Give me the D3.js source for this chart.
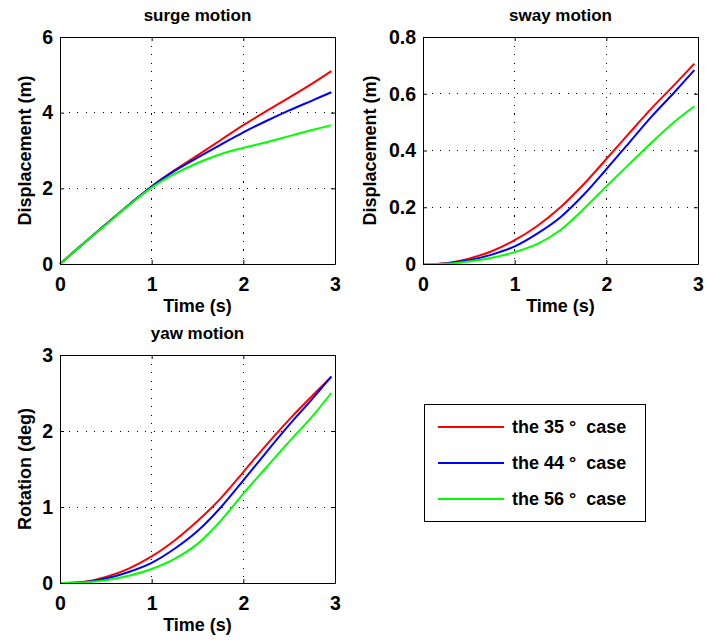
<!DOCTYPE html>
<html>
<head>
<meta charset="utf-8">
<script src="https://cdn.jsdelivr.net/npm/d3@7"></script>
<style>
  html, body { margin: 0; padding: 0; background: #fff; }
  svg text { font-family: "Liberation Sans", Arial, Helvetica, sans-serif; font-weight: bold; fill: #000; }
</style>
</head>
<body>
<svg id="chart" width="709" height="643"></svg>
<script>
// Sample times (s)
const time = [0, 0.25, 0.5, 0.75, 1.0, 1.25, 1.5, 1.75, 2.0, 2.25, 2.5, 2.75, 2.96];

// Surge displacement (m)
const surge35 = [0, 0.53, 1.05, 1.56, 2.05, 2.48, 2.87, 3.27, 3.67, 4.04, 4.40, 4.77, 5.10];
const surge44 = [0, 0.53, 1.05, 1.56, 2.05, 2.46, 2.81, 3.15, 3.48, 3.78, 4.06, 4.32, 4.54];
const surge56 = [0, 0.53, 1.04, 1.55, 2.02, 2.38, 2.67, 2.90, 3.07, 3.22, 3.38, 3.54, 3.67];

// Sway displacement (m)
const sway35 = [0, 0.003, 0.019, 0.045, 0.084, 0.135, 0.200, 0.280, 0.370, 0.461, 0.551, 0.634, 0.706];
const sway44 = [0, 0.002, 0.013, 0.033, 0.062, 0.108, 0.165, 0.243, 0.334, 0.428, 0.522, 0.608, 0.683];
const sway56 = [0, 0.001, 0.009, 0.022, 0.042, 0.071, 0.120, 0.193, 0.273, 0.352, 0.430, 0.503, 0.556];

// Yaw rotation (deg)
const yaw35 = [0, 0.012, 0.08, 0.19, 0.35, 0.56, 0.815, 1.11, 1.46, 1.815, 2.15, 2.46, 2.71];
const yaw44 = [0, 0.010, 0.06, 0.145, 0.265, 0.45, 0.683, 0.99, 1.35, 1.72, 2.08, 2.42, 2.72];
const yaw56 = [0, 0.006, 0.035, 0.095, 0.185, 0.317, 0.515, 0.815, 1.176, 1.52, 1.86, 2.19, 2.50];

const caseLabels = ["the 35 °  case", "the 44 °  case", "the 56 °  case"];
const caseColors = ["#ff0000", "#0000ff", "#00ff00"];

const xTicks = [0, 1, 2, 3];
const surgeTicks = [0, 2, 4, 6];
const swayTicks = [0, 0.2, 0.4, 0.6, 0.8];
const yawTicks = [0, 1, 2, 3];

const svg = d3.select("#chart");

function panel(box, title, yLabel, yLabelOffset, yMax, yTicks, yFmt, seriesList) {
  const x = d3.scaleLinear().domain([0, 3]).range([box.x0, box.x1]);
  const y = d3.scaleLinear().domain([0, yMax]).range([box.y1, box.y0]);
  const g = svg.append("g");

  // dotted grid at interior ticks
  const grid = g.append("g").attr("stroke", "#000").attr("stroke-width", 1)
    .attr("stroke-dasharray", "1.2,7.3").attr("shape-rendering", "crispEdges");
  xTicks.filter(t => t > 0 && t < 3).forEach(t => {
    grid.append("line").attr("x1", x(t)).attr("x2", x(t)).attr("y1", box.y0).attr("y2", box.y1);
  });
  yTicks.filter(t => t > 0 && t < yMax).forEach(t => {
    grid.append("line").attr("x1", box.x0).attr("x2", box.x1).attr("y1", y(t)).attr("y2", y(t));
  });

  // curves
  const line = d3.line().x((d, i) => x(time[i])).y(d => y(d)).curve(d3.curveCatmullRom.alpha(0.5));
  seriesList.forEach((s, i) => {
    g.append("path").datum(s).attr("d", line).attr("fill", "none")
      .attr("stroke", caseColors[i]).attr("stroke-width", 2);
  });

  // axes with inward ticks on all four sides
  const xAx = g.append("g").attr("transform", `translate(0,${box.y1})`)
    .call(d3.axisBottom(x).tickValues(xTicks).tickSizeInner(-4).tickSizeOuter(0).tickPadding(13).tickFormat(d3.format("d")));
  const xAxTop = g.append("g").attr("transform", `translate(0,${box.y0})`)
    .call(d3.axisTop(x).tickValues(xTicks).tickSizeInner(-4).tickSizeOuter(0).tickFormat(""));
  const yAx = g.append("g").attr("transform", `translate(${box.x0},0)`)
    .call(d3.axisLeft(y).tickValues(yTicks).tickSizeInner(-4).tickSizeOuter(0).tickPadding(7).tickFormat(yFmt));
  const yAxRight = g.append("g").attr("transform", `translate(${box.x1},0)`)
    .call(d3.axisRight(y).tickValues(yTicks).tickSizeInner(-4).tickSizeOuter(0).tickFormat(""));
  [xAx, xAxTop, yAx, yAxRight].forEach(a => {
    a.select(".domain").attr("stroke", "#000").attr("stroke-width", 1);
    a.selectAll(".tick line").attr("stroke", "#000");
    a.selectAll("text").style("font-size", "19.5px").attr("fill", "#000")
      .style("font-family", '"Liberation Sans", Arial, sans-serif').style("font-weight", "bold");
  });

  g.append("text").attr("x", (box.x0 + box.x1) / 2).attr("y", box.y0 - 16)
    .attr("text-anchor", "middle").style("font-size", "17px").text(title);
  g.append("text").attr("x", (box.x0 + box.x1) / 2).attr("y", box.y1 + 48)
    .attr("text-anchor", "middle").style("font-size", "18px").text("Time (s)");
  g.append("text")
    .attr("transform", `translate(${box.x0 - yLabelOffset},${(box.y0 + box.y1) / 2}) rotate(-90)`)
    .attr("text-anchor", "middle").style("font-size", "18px").text(yLabel);
}

panel({x0: 60, x1: 335, y0: 37, y1: 264}, "surge motion", "Displacement (m)", 29, 6, surgeTicks,
  d3.format("d"), [surge35, surge44, surge56]);
panel({x0: 423, x1: 698, y0: 37, y1: 264}, "sway motion", "Displacement (m)", 47, 0.8, swayTicks,
  d => d === 0 ? "0" : d3.format(".1f")(d), [sway35, sway44, sway56]);
panel({x0: 60, x1: 335, y0: 355, y1: 583}, "yaw motion", "Rotation (deg)", 29, 3, yawTicks,
  d3.format("d"), [yaw35, yaw44, yaw56]);

// legend
const lg = svg.append("g");
lg.append("rect").attr("x", 424.5).attr("y", 404.5).attr("width", 221).attr("height", 117)
  .attr("fill", "#fff").attr("stroke", "#000").attr("stroke-width", 1);
caseLabels.forEach((lab, i) => {
  const yy = 427 + i * 36;
  lg.append("line").attr("x1", 438).attr("x2", 504).attr("y1", yy).attr("y2", yy)
    .attr("stroke", caseColors[i]).attr("stroke-width", 2);
  lg.append("text").attr("x", 512).attr("y", yy).attr("dy", "0.35em")
    .style("font-size", "18px").style("white-space", "pre").attr("xml:space", "preserve").text(lab);
});
</script>
</body>
</html>
